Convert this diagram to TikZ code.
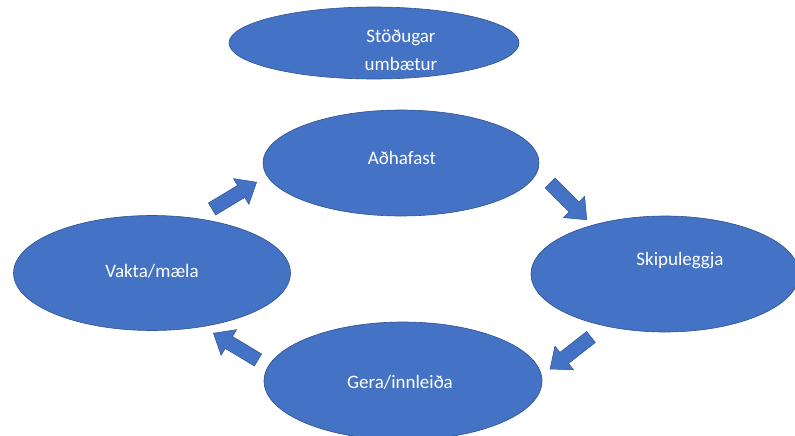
\documentclass[tikz,border=0pt]{standalone}
\usepackage{fontspec}
\setmainfont{Carlito}
\usepackage{tikz}
\usetikzlibrary{shapes.geometric}

\definecolor{ovalfill}{HTML}{4472C4}
\definecolor{ovalline}{HTML}{2F528F}

\tikzset{
  oval/.style={ellipse, fill=ovalfill, draw=ovalline, line width=0.6pt, inner sep=0pt},
  ovaltext/.style={text=white, font=\fontsize{19}{28}\selectfont, align=center, inner sep=0pt},
  blockarr/.pic={
    \fill[ovalfill, draw=ovalline, line width=0.5pt]
      (0,-7) -- (34,-7) -- (34,-15) -- (52,0) -- (34,15) -- (34,7) -- (0,7) -- cycle;
  }
}

\begin{document}
\begin{tikzpicture}[x=1pt, y=-1pt]
\useasboundingbox (0,0) rectangle (795,436);
\clip (0,0) rectangle (795,436);

% Title oval
\node[oval, minimum width=290pt, minimum height=72pt] (improve) at (374,43) {};
\node[ovaltext] (improve-t) at (401,50) {Stöðugar\\umbætur};

% The four steps of the cycle
\node[oval, minimum width=276pt, minimum height=106pt] (act) at (401,163) {};
\node[ovaltext] (act-t) at (402,158) {Aðhafast};

\node[oval, minimum width=268pt, minimum height=116pt] (plan) at (665,274) {};
\node[ovaltext] (plan-t) at (680,261) {Skipuleggja};

\node[oval, minimum width=278pt, minimum height=118pt] (do) at (403,381) {};
\node[ovaltext] (do-t) at (400,382) {Gera/innleiða};

\node[oval, minimum width=277pt, minimum height=115pt] (check) at (152,273) {};
\node[ovaltext] (check-t) at (152,271) {Vakta/mæla};

% Block arrows between the steps
\pic (arrA) [rotate=31] at (212,209) {blockarr};
\pic (arrB) [rotate=-45] at (550,183) {blockarr};
\pic (arrC) [rotate=-142] at (591,337) {blockarr};
\pic (arrD) [rotate=149] at (258,360) {blockarr};
\end{tikzpicture}
\end{document}
